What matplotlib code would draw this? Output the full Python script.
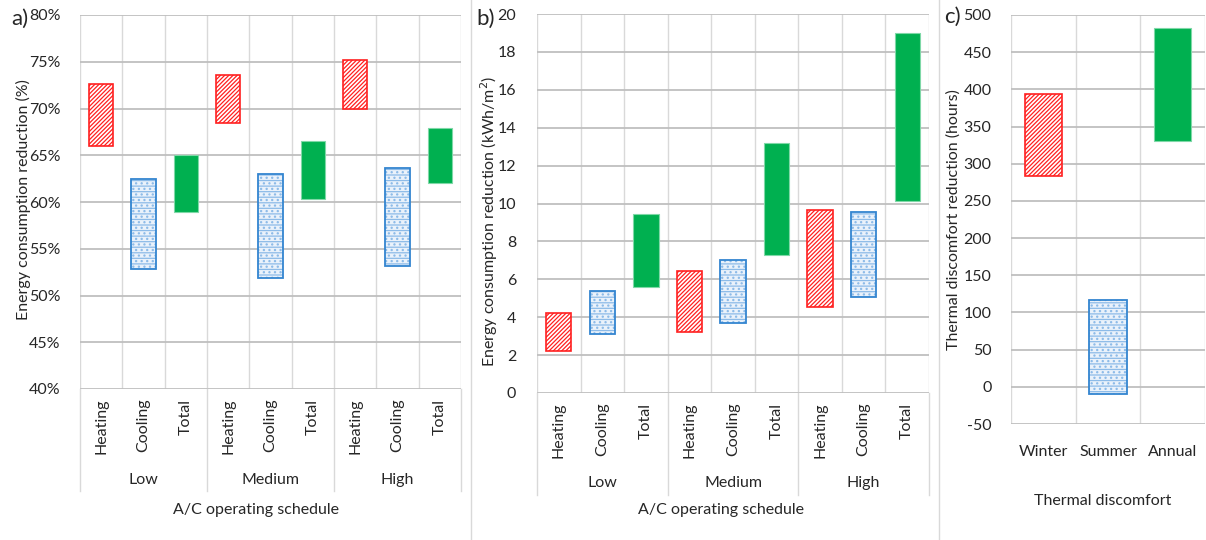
import matplotlib.pyplot as plt
from matplotlib.transforms import blended_transform_factory
import numpy as np

plt.rcParams['font.family'] = ['Lato', 'DejaVu Sans']
plt.rcParams['hatch.linewidth'] = 0.9

W, H = 1206, 540

schedules = ["Low", "Medium", "High"]
uses = ["Heating", "Cooling", "Total"]

# panel a: energy consumption reduction (%), low/high ends of each range
pct_low = [66.0, 52.8, 58.9, 68.4, 51.9, 60.3, 69.9, 53.2, 62.0]
pct_high = [72.6, 62.5, 65.0, 73.6, 63.0, 66.5, 75.2, 63.6, 67.9]

# panel b: energy consumption reduction (kWh/m2)
kwh_low = [2.2, 3.1, 5.6, 3.2, 3.7, 7.3, 4.55, 5.05, 10.15]
kwh_high = [4.2, 5.4, 9.45, 6.45, 7.0, 13.2, 9.65, 9.55, 19.0]

# panel c: thermal discomfort reduction (hours)
seasons = ["Winter", "Summer", "Annual"]
hours_low = [283, -10, 331]
hours_high = [394, 117, 482]

RED = '#FF2020'
BLUE_EDGE = '#3385D0'
BLUE_HATCH = '#8DBBE8'
BLUE_FILL = '#EAF2FB'
GREEN = '#00B050'
HGRID = '#BFBFBF'
VGRID = '#D9D9D9'
TXT = '#262626'
FS = 11.5


def px_axes(l, t, r, b):
    return fig.add_axes([l / W, 1 - b / H, (r - l) / W, (b - t) / H])


def draw_bars(ax, x, lo, hi, kinds, width=0.58):
    lo = np.array(lo)
    hi = np.array(hi)
    for xi, a, b, k in zip(x, lo, hi, kinds):
        if k == 0:
            ax.bar(xi, b - a, bottom=a, width=width, facecolor='white',
                   edgecolor=RED, hatch='////////', linewidth=1.2, zorder=3)
        elif k == 1:
            ax.bar(xi, b - a, bottom=a, width=width, facecolor=BLUE_FILL,
                   edgecolor=BLUE_HATCH, hatch='---...', linewidth=0, zorder=3)
            ax.bar(xi, b - a, bottom=a, width=width, fill=False,
                   edgecolor=BLUE_EDGE, linewidth=1.3, zorder=4)
        else:
            ax.bar(xi, b - a, bottom=a, width=width, color=GREEN,
                   edgecolor='#7FD8A7', linewidth=0.8, zorder=3)


def style_axes(ax, n, ymin, ymax, step, fmt, pad):
    ax.set_xlim(-0.5, n - 0.5)
    ax.set_ylim(ymin, ymax)
    ax.set_yticks(np.arange(ymin, ymax + step / 2, step))
    ax.yaxis.set_major_formatter(fmt)
    ax.set_xticks(np.arange(n) - 0.5, minor=True)
    ax.grid(True, axis='y', which='major', color=HGRID, linewidth=1.3, zorder=0)
    ax.grid(True, axis='x', which='minor', color=VGRID, linewidth=1.0, zorder=0)
    ax.axvline(n - 0.5, color=VGRID, linewidth=1.0, zorder=0)
    for s in ax.spines.values():
        s.set_visible(False)
    ax.tick_params(axis='both', which='both', length=0, labelsize=FS, colors=TXT)
    ax.tick_params(axis='y', pad=pad)
    ax.set_axisbelow(True)


def group_axis(ax, sep_drop, label_y):
    # multi-level category axis: rotated use labels, group names and separators
    x = np.arange(len(schedules) * len(uses))
    ax.set_xticks(x)
    ax.set_xticklabels(uses * len(schedules), rotation=90, va='top')
    ax.tick_params(axis='x', which='major', pad=7)
    tr = blended_transform_factory(ax.transData, ax.transAxes)
    for g in range(len(schedules) + 1):
        xb = g * len(uses) - 0.5
        ax.plot([xb, xb], [0, -sep_drop], transform=tr, color=VGRID,
                linewidth=1.0, clip_on=False)
    for g, name in enumerate(schedules):
        ax.text(g * len(uses) + 1, -label_y, name, transform=tr, ha='center',
                va='center', fontsize=FS, color=TXT)


fig = plt.figure(figsize=(W / 100, H / 100), dpi=100)

# ---- panel a
axa = px_axes(80, 15, 461, 389)
n = len(pct_low)
draw_bars(axa, np.arange(n), pct_low, pct_high, [0, 1, 2] * 3)
style_axes(axa, n, 40, 80, 5, lambda v, p: f"{v:.0f}%", 14)
group_axis(axa, (491 - 389) / 374, (480 - 389) / 374)
fig.text(23 / W, 1 - 200 / H, "Energy consumption reduction (%)", rotation=90,
         ha='center', va='center', fontsize=FS, color=TXT)
fig.text(256 / W, 1 - 510 / H, "A/C operating schedule", ha='center',
         va='center', fontsize=FS, color=TXT)
fig.text(20 / W, 1 - 19 / H, "a)", ha='center', va='center', fontsize=16,
         color=TXT)

# ---- panel b
axb = px_axes(537, 14, 929, 393)
draw_bars(axb, np.arange(n), kwh_low, kwh_high, [0, 1, 2] * 3)
style_axes(axb, n, 0, 20, 2, lambda v, p: f"{v:.0f}", 15)
group_axis(axb, (495 - 393) / 379, (483 - 393) / 379)
fig.text(489 / W, 1 - 221 / H, "Energy consumption reduction (kWh/m$^2$)",
         rotation=90, ha='center', va='center', fontsize=FS, color=TXT)
fig.text(721 / W, 1 - 510 / H, "A/C operating schedule", ha='center',
         va='center', fontsize=FS, color=TXT)
fig.text(486 / W, 1 - 19 / H, "b)", ha='center', va='center', fontsize=16,
         color=TXT)

# ---- panel c
axc = px_axes(1011, 15, 1205, 424)
draw_bars(axc, np.arange(3), hours_low, hours_high, [0, 1, 2])
style_axes(axc, 3, -50, 500, 50, lambda v, p: f"{v:.0f}", 14)
axc.set_xticks(np.arange(3))
axc.set_xticklabels(seasons)
axc.tick_params(axis='x', which='major', pad=15)
fig.text(954 / W, 1 - 220 / H, "Thermal discomfort reduction (hours)",
         rotation=90, ha='center', va='center', fontsize=FS, color=TXT)
fig.text(1103 / W, 1 - 501 / H, "Thermal discomfort", ha='center',
         va='center', fontsize=FS, color=TXT)
fig.text(952 / W, 1 - 17 / H, "c)", ha='center', va='center', fontsize=16,
         color=TXT)

# panel separators
for xs in (471, 939):
    fig.add_artist(plt.Line2D([xs / W, xs / W], [0, 1], color=VGRID, linewidth=1.0))

fig.savefig("out.png", dpi=100, facecolor='white')
